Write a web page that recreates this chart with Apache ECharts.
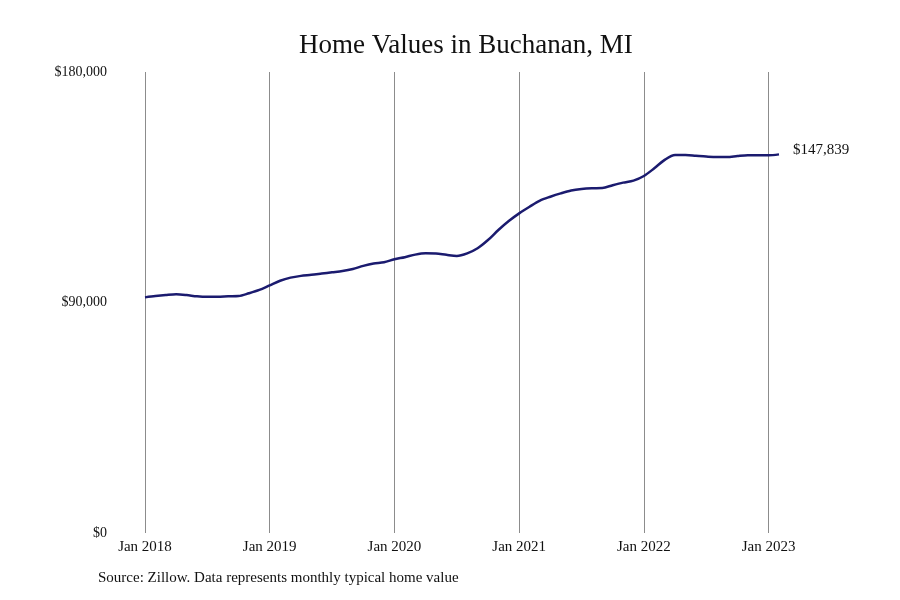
<!DOCTYPE html>
<html>
<head>
<meta charset="utf-8">
<script src="https://cdn.jsdelivr.net/npm/echarts@6/dist/echarts.min.js"></script>
<style>
  html, body { margin: 0; padding: 0; background: #fff; }
  #chart { width: 900px; height: 600px; }
</style>
</head>
<body>
<div id="chart"></div>
<script>
var monthNames = ['Jan', 'Feb', 'Mar', 'Apr', 'May', 'Jun', 'Jul', 'Aug', 'Sep', 'Oct', 'Nov', 'Dec'];
var startYear = 2018;

// typical home value, Jan 2018 - Feb 2023
var values = [
    92000, 92500, 92900, 93200, 92900, 92400, 92200, 92200, 92400, 92500, 93600, 94900,
    96700, 98500, 99700, 100400, 100800, 101300, 101800, 102300, 103100, 104300, 105200, 105700,
    106900, 107700, 108700, 109200, 109100, 108600, 108200, 109200, 111200, 114400, 118300, 121800,
    124800, 127400, 129800, 131300, 132600, 133700, 134300, 134600, 134700, 135800, 136800, 137600,
    139400, 142400, 145700, 147600, 147600, 147300, 147000, 146800, 146800, 147200, 147500, 147500,
    147500, 147839
];

var yTicks = [0, 90000, 180000];

var categories = values.map(function (v, i) {
    return monthNames[i % 12] + ' ' + (startYear + Math.floor(i / 12));
});

var serif = '"Liberation Serif", "DejaVu Serif", serif';

var chart = echarts.init(document.getElementById('chart'));
chart.setOption({
    animation: false,
    title: {
        text: 'Home Values in Buchanan, MI',
        left: 294,
        top: 27,
        textStyle: { fontFamily: serif, fontSize: 27, fontWeight: 'normal', color: '#111' }
    },
    graphic: [{
        type: 'text',
        left: 98,
        top: 571,
        style: {
            text: 'Source: Zillow. Data represents monthly typical home value',
            font: '15px ' + serif,
            fill: '#111'
        }
    }],
    grid: { left: 145, right: 121, top: 72, bottom: 67 },
    xAxis: {
        type: 'category',
        data: categories,
        boundaryGap: false,
        axisLine: { show: false },
        axisTick: { show: false },
        axisLabel: {
            interval: function (i) { return i % 12 === 0; },
            fontFamily: serif,
            fontSize: 15,
            color: '#111',
            margin: 7
        },
        splitLine: {
            show: true,
            interval: function (i) { return i % 12 === 0; },
            lineStyle: { color: '#8c8c8c', width: 1 }
        }
    },
    yAxis: {
        type: 'value',
        min: yTicks[0],
        max: yTicks[yTicks.length - 1],
        interval: yTicks[1] - yTicks[0],
        axisLine: { show: false },
        axisTick: { show: false },
        splitLine: { show: false },
        axisLabel: {
            formatter: function (v) { return '$' + v.toLocaleString('en-US'); },
            fontFamily: serif,
            fontSize: 14,
            color: '#111',
            margin: 38
        }
    },
    series: [{
        type: 'line',
        data: values,
        smooth: 0.3,
        symbol: 'none',
        lineStyle: { color: '#1b1b6f', width: 2.5 },
        endLabel: {
            show: true,
            formatter: function (p) { return '$' + p.value.toLocaleString('en-US'); },
            fontFamily: serif,
            fontSize: 15,
            color: '#111',
            distance: 14,
            offset: [0, -4]
        }
    }]
});
</script>
</body>
</html>
